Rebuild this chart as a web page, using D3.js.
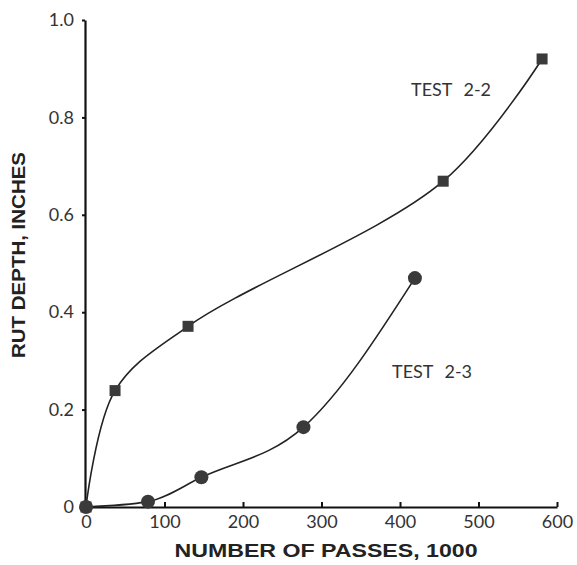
<!DOCTYPE html>
<html>
<head>
<meta charset="utf-8">
<script src="https://d3js.org/d3.v7.min.js"></script>
<style>
    body { margin: 0; background: #fff; }
    svg { display: block; }
</style>
</head>
<body>
<div id="chart"></div>
<script>
    // rut depth data (passes in 1000s, depth in inches)
    var test22Passes = [0, 37, 130, 455, 581];
    var test22Depth = [0, 0.239, 0.371, 0.669, 0.92];
    var test23Passes = [0, 79, 147, 277, 419];
    var test23Depth = [0, 0.011, 0.061, 0.164, 0.47];
    var xTicks = [0, 100, 200, 300, 400, 500, 600];
    var yTicks = [0, 0.2, 0.4, 0.6, 0.8, 1.0];

    var width = 577, height = 565;
    var margin = {left: 86, right: 20, top: 20, bottom: 58};

    var svg = d3.select("#chart").append("svg")
        .attr("width", width)
        .attr("height", height);

    var x = d3.scaleLinear().domain([0, 600]).range([margin.left, 557]);
    var y = d3.scaleLinear().domain([0, 1]).range([507, margin.top]);

    var tickFont = "Lato, 'Open Sans', sans-serif";

    // axes
    var xAxis = svg.append("g")
        .attr("transform", "translate(0," + y(0) + ")")
        .call(d3.axisBottom(x).tickValues(xTicks).tickSizeInner(-5).tickSizeOuter(0).tickPadding(12)
            .tickFormat(d3.format("d")));
    var yAxis = svg.append("g")
        .attr("transform", "translate(" + (x(0) - 1) + ",0)")
        .call(d3.axisLeft(y).tickValues(yTicks).tickSizeInner(3).tickSizeOuter(0).tickPadding(6)
            .tickFormat(d => d === 0 ? "0" : d3.format(".1f")(d)));

    [xAxis, yAxis].forEach(function (a) {
        a.select(".domain").attr("stroke", "#111").attr("stroke-width", 2.2);
        a.selectAll(".tick line").attr("stroke", "#111").attr("stroke-width", 2);
        a.selectAll(".tick text")
            .attr("fill", "#333")
            .style("font-family", tickFont)
            .style("font-size", "18px");
    });
    xAxis.selectAll(".tick text").attr("dy", "0.5em");
    yAxis.selectAll(".tick text").attr("dx", "-2px");

    // axis titles
    svg.append("text")
        .attr("x", 326)
        .attr("y", 557)
        .attr("text-anchor", "middle")
        .attr("fill", "#222")
        .attr("textLength", 303)
        .attr("lengthAdjust", "spacingAndGlyphs")
        .style("font-family", "'Liberation Sans', Arial, sans-serif")
        .style("font-weight", "bold")
        .style("font-size", "18px")
        .text("NUMBER OF PASSES, 1000");

    svg.append("text")
        .attr("transform", "translate(25,255) rotate(-90)")
        .attr("text-anchor", "middle")
        .attr("fill", "#222")
        .attr("textLength", 206)
        .attr("lengthAdjust", "spacingAndGlyphs")
        .style("font-family", "'Liberation Sans', Arial, sans-serif")
        .style("font-weight", "bold")
        .style("font-size", "18px")
        .text("RUT DEPTH, INCHES");

    // smooth curves through the measured points
    var line22 = d3.line()
        .x(d => x(d[0]))
        .y(d => y(d[1]))
        .curve(d3.curveCatmullRom.alpha(0.5));
    var line23 = d3.line()
        .x(d => x(d[0]))
        .y(d => y(d[1]))
        .curve(d3.curveMonotoneX);

    var s22 = d3.zip(test22Passes, test22Depth);
    var s23 = d3.zip(test23Passes, test23Depth);

    svg.append("path")
        .datum(s22)
        .attr("fill", "none")
        .attr("stroke", "#222")
        .attr("stroke-width", 1.6)
        .attr("d", line22);

    svg.append("path")
        .datum(s23)
        .attr("fill", "none")
        .attr("stroke", "#222")
        .attr("stroke-width", 1.6)
        .attr("d", line23);

    // markers
    svg.selectAll(".circ")
        .data(s23)
        .enter().append("circle")
        .attr("class", "circ")
        .attr("cx", d => x(d[0]))
        .attr("cy", d => y(d[1]))
        .attr("r", 7)
        .attr("fill", "#3a3a3a");

    svg.selectAll(".sq")
        .data(s22)
        .enter().append("rect")
        .attr("class", "sq")
        .attr("x", d => x(d[0]) - 5.5)
        .attr("y", d => y(d[1]) - 5.5)
        .attr("width", 11)
        .attr("height", 11)
        .attr("fill", "#3a3a3a");

    // series labels
    svg.append("text")
        .attr("x", 411)
        .attr("y", 96)
        .attr("fill", "#333")
        .style("font-family", tickFont)
        .style("font-size", "18px")
        .style("word-spacing", "7px")
        .text("TEST 2-2");

    svg.append("text")
        .attr("x", 392)
        .attr("y", 378)
        .attr("fill", "#333")
        .style("font-family", tickFont)
        .style("font-size", "18px")
        .style("word-spacing", "7px")
        .text("TEST 2-3");
</script>
</body>
</html>
